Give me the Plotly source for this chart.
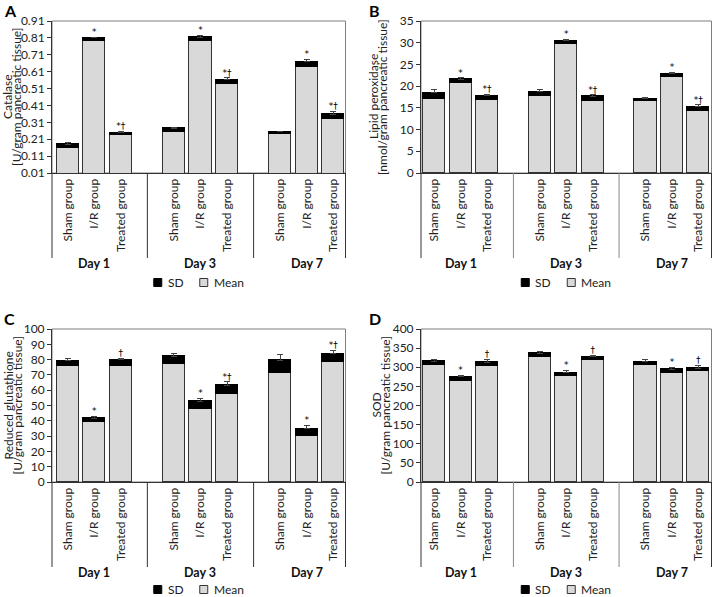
import plotly.graph_objects as go

# ---------------- data ----------------
groups = ["Sham group", "I/R group", "Treated group"]
days = ["Day 1", "Day 3", "Day 7"]

catalase_mean = [0.160, 0.790, 0.233, 0.255, 0.790, 0.535, 0.243, 0.638, 0.330]
catalase_sd = [0.020, 0.020, 0.016, 0.019, 0.023, 0.028, 0.010, 0.031, 0.027]
catalase_err = [0.008, 0.003, 0.006, 0.006, 0.010, 0.010, 0.004, 0.012, 0.018]
catalase_marks = ["", "*", "*†", "", "*", "*†", "", "*", "*†"]

lipid_mean = [17.0, 20.7, 16.7, 17.7, 29.6, 16.65, 16.5, 22.1, 14.3]
lipid_sd = [1.5, 0.9, 1.1, 1.0, 0.8, 1.0, 0.6, 0.8, 0.9]
lipid_err = [0.7, 0.3, 0.3, 0.5, 0.4, 0.35, 0.2, 0.3, 0.5]
lipid_marks = ["", "*", "*†", "", "*", "*†", "", "*", "*†"]

gsh_mean = [76.1, 38.9, 76.1, 77.0, 47.5, 57.3, 71.5, 29.8, 78.3]
gsh_sd = [3.3, 2.9, 3.8, 5.3, 5.2, 5.9, 8.1, 5.0, 5.5]
gsh_err = [1.5, 1.1, 1.1, 1.9, 2.2, 2.2, 3.5, 2.2, 2.4]
gsh_marks = ["", "*", "†", "", "*", "*†", "", "*", "*†"]

sod_mean = [306, 263, 304, 326, 276, 319, 306, 284, 290]
sod_sd = [10, 12, 9, 11, 10, 9, 9, 11, 7]
sod_err = [4, 4, 8, 5, 5, 4, 4, 5, 7]
sod_marks = ["", "*", "†", "", "*", "†", "", "*", "†"]

catalase_ticks = [0.01, 0.11, 0.21, 0.31, 0.41, 0.51, 0.61, 0.71, 0.81, 0.91]
lipid_ticks = [0, 5, 10, 15, 20, 25, 30, 35]
gsh_ticks = [0, 10, 20, 30, 40, 50, 60, 70, 80, 90, 100]
sod_ticks = [0, 50, 100, 150, 200, 250, 300, 350, 400]

# ---------------- layout helpers ----------------
W, H = 713, 597
FONT = "Lato"
MARKFONT = "DejaVu Sans"
GREY = "#d9d9d9"
EDGE = "#333333"


def px(x):
    return x / W


def py(y):
    return 1 - y / H


# bar positions: groups of three with one empty slot between days
xpos = [d * 4 + g for d in range(len(days)) for g in range(len(groups))]
ticktext = [g for _ in days for g in groups]
day_centers = [d * 4 + 1 for d in range(len(days))]

panels = [
    dict(letter="A", means=catalase_mean, sds=catalase_sd, errs=catalase_err,
         marks=catalase_marks, ticks=catalase_ticks, fmt=".2f",
         title=["Catalase", "[U/gram pancreatic tissue]"], toff=(-44, -35),
         box=(52, 345.5, 21, 173), xr=[-0.59, 10.46], letter_xy=(2, 10)),
    dict(letter="B", means=lipid_mean, sds=lipid_sd, errs=lipid_err,
         marks=lipid_marks, ticks=lipid_ticks, fmt="d",
         title=["Lipid peroxidase", "[nmol/gram pancreatic tissue]"], toff=(-47, -38),
         box=(421, 711.5, 21, 173), xr=[-0.5, 10.5], letter_xy=(367, 10)),
    dict(letter="C", means=gsh_mean, sds=gsh_sd, errs=gsh_err,
         marks=gsh_marks, ticks=gsh_ticks, fmt="d",
         title=["Reduced glutathione", "[U/gram pancreatic tissue]"], toff=(-44, -35),
         box=(52, 345.5, 329, 482), xr=[-0.59, 10.46], letter_xy=(2, 318)),
    dict(letter="D", means=sod_mean, sds=sod_sd, errs=sod_err,
         marks=sod_marks, ticks=sod_ticks, fmt="d",
         title=["SOD", "[U/gram pancreatic tissue]"], toff=(-45, -36),
         box=(421, 711.5, 329, 482), xr=[-0.5, 10.5], letter_xy=(367, 318)),
]

fig = go.Figure()
annotations = []
shapes = []

for i, p in enumerate(panels):
    n = "" if i == 0 else str(i + 1)
    xa, ya = "x" + n, "y" + n
    left, right, top, bottom = p["box"]
    ph = bottom - top

    fig.add_trace(go.Bar(
        x=xpos, y=p["means"], name="Mean", width=0.84,
        marker=dict(color=GREY, line=dict(color=EDGE, width=1)),
        xaxis=xa, yaxis=ya, showlegend=False, hoverinfo="y"))
    fig.add_trace(go.Bar(
        x=xpos, y=p["sds"], name="SD", width=0.84,
        marker=dict(color="#000000", line=dict(color="#000000", width=1)),
        error_y=dict(type="data", array=p["errs"], arrayminus=[0] * len(xpos),
                     symmetric=False, color="#444444", thickness=1, width=3),
        xaxis=xa, yaxis=ya, showlegend=False, hoverinfo="y"))
    tops = [m + s + e for m, s, e in zip(p["means"], p["sds"], p["errs"])]
    fig.add_trace(go.Scatter(
        x=xpos, y=tops, text=p["marks"], mode="text", textposition="top center",
        textfont=dict(family=MARKFONT, size=9, color="#000000"),
        xaxis=xa, yaxis=ya, showlegend=False, hoverinfo="skip", cliponaxis=False))

    xkey = "xaxis" + n
    ykey = "yaxis" + n
    fig.layout[xkey] = dict(
        domain=[px(left), px(right)], range=p["xr"], anchor=ya, automargin=False,
        tickvals=xpos, ticktext=ticktext, tickangle=-90, ticks="",
        showline=True, linecolor=EDGE, linewidth=1, showgrid=False, zeroline=False,
        tickfont=dict(family=FONT, size=12, color="#222222"), fixedrange=True)
    fig.layout[ykey] = dict(
        domain=[py(bottom), py(top)], range=[p["ticks"][0], p["ticks"][-1]], anchor=xa,
        automargin=False,
        tickvals=p["ticks"], tickformat=p["fmt"], ticks="outside", ticklen=4,
        tickcolor=EDGE, showline=True, linecolor=EDGE, linewidth=1,
        showgrid=False, zeroline=False,
        tickfont=dict(family=FONT, size=12, color="#222222"), fixedrange=True)

    # plot-area frame (top / right in grey)
    shapes.append(dict(type="rect", xref=xa + " domain", yref=ya + " domain",
                       x0=0, x1=1, y0=0, y1=1, line=dict(color="#7f7f7f", width=1),
                       layer="below"))
    # group separators under the axis
    sep_len = 85 / ph
    for xd in (0, 1):
        shapes.append(dict(type="line", xref=xa + " domain", yref=ya + " domain",
                           x0=xd, x1=xd, y0=0, y1=-sep_len,
                           line=dict(color=EDGE, width=1)))
    for xs in (3, 7):
        shapes.append(dict(type="line", xref=xa, yref=ya + " domain",
                           x0=xs, x1=xs, y0=0, y1=-sep_len,
                           line=dict(color=EDGE if i % 2 == 0 else "#888888", width=1)))
    # day labels
    for dc, dname in zip(day_centers, days):
        annotations.append(dict(text="<b>" + dname + "</b>", xref=xa, yref="paper",
                                x=dc, y=py(bottom + 90.5), showarrow=False,
                                xanchor="center", yanchor="middle",
                                font=dict(family=FONT, size=12.5, color="#111111")))
    # y-axis titles (two lines)
    for line, off in zip(p["title"], p["toff"]):
        annotations.append(dict(text=line, xref="paper", yref="paper",
                                x=px(left + off), y=py((top + bottom) / 2),
                                textangle=-90, showarrow=False,
                                xanchor="center", yanchor="middle",
                                font=dict(family=FONT, size=12, color="#222222")))
    # panel letter
    lx, ly = p["letter_xy"]
    annotations.append(dict(text="<b>" + p["letter"] + "</b>", xref="paper", yref="paper",
                            x=px(lx), y=py(ly), showarrow=False,
                            xanchor="left", yanchor="middle",
                            font=dict(family=FONT, size=16, color="#000000")))
    # legend (SD / Mean swatches)
    cx = (left + right) / 2
    ly = min(bottom + 109.5, H - 7.5)
    shapes.append(dict(type="rect", xref="paper", yref="paper",
                       x0=px(cx - 45), x1=px(cx - 37), y0=py(ly + 4), y1=py(ly - 4),
                       fillcolor="#000000", line=dict(color="#000000", width=1)))
    annotations.append(dict(text="SD", xref="paper", yref="paper", x=px(cx - 32),
                            y=py(ly), showarrow=False, xanchor="left", yanchor="middle",
                            borderpad=0,
                            font=dict(family=FONT, size=12, color="#222222")))
    shapes.append(dict(type="rect", xref="paper", yref="paper",
                       x0=px(cx + 1), x1=px(cx + 9), y0=py(ly + 4), y1=py(ly - 4),
                       fillcolor=GREY, line=dict(color="#333333", width=1)))
    annotations.append(dict(text="Mean", xref="paper", yref="paper", x=px(cx + 14),
                            y=py(ly), showarrow=False, xanchor="left", yanchor="middle",
                            borderpad=0,
                            font=dict(family=FONT, size=12, color="#222222")))

fig.update_layout(
    width=W, height=H, autosize=False,
    margin=dict(l=0, r=0, t=0, b=0, pad=0),
    barmode="stack", bargap=0,
    paper_bgcolor="white", plot_bgcolor="white",
    font=dict(family=FONT, size=12, color="#222222"),
    annotations=annotations, shapes=shapes, showlegend=False,
)

fig.write_html(
    "out.html",
    config={"displayModeBar": False},
    post_script="document.body.style.margin='0px';document.body.style.overflow='hidden';",
)
